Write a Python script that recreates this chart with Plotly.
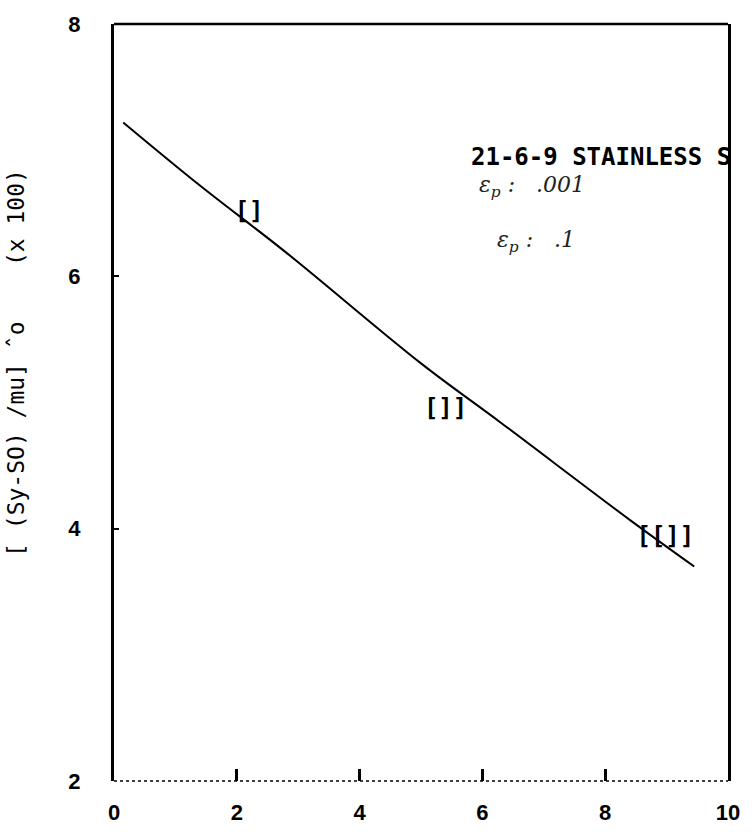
import plotly.graph_objects as go

# Fitted curve
curve_x = [0.15, 1.4, 2.8, 5.0, 6.3, 8.4, 9.45]
curve_y = [7.22, 6.72, 6.19, 5.31, 4.84, 4.07, 3.70]

# Data points (open rectangular symbols)
pts_x = [2.2, 5.4, 8.98]
pts_y = [6.5, 4.94, 3.93]
pts_sym = ["[]", "[]]", "[[]]"]

x_ticks = [0, 2, 4, 6, 8, 10]
y_ticks = [2, 4, 6, 8]

fig = go.Figure()
fig.add_trace(go.Scatter(x=curve_x, y=curve_y, mode="lines",
                         line=dict(color="black", width=2, shape="spline"),
                         showlegend=False, hoverinfo="skip"))
fig.add_trace(go.Scatter(x=pts_x, y=pts_y, mode="text", text=pts_sym,
                         textfont=dict(family="DejaVu Sans Mono", size=24, color="black",
                                       weight="bold"),
                         showlegend=False))

tick_font = dict(family="Liberation Sans", size=22, color="black", weight="bold")

fig.update_layout(
    width=752, height=837,
    margin=dict(l=114, r=22, t=15, b=49),
    paper_bgcolor="white", plot_bgcolor="white",
    xaxis=dict(range=[0, 10], tickvals=x_ticks, ticktext=[str(v) for v in x_ticks],
               showgrid=False, zeroline=False, showline=False,
               ticks="inside", ticklen=12, tickwidth=2.5, tickcolor="black",
               ticklabelstandoff=16, tickfont=tick_font),
    yaxis=dict(range=[2, 8], tickvals=y_ticks, ticktext=[str(v) for v in y_ticks],
               showgrid=False, zeroline=False, showline=True, linecolor="black",
               linewidth=3, mirror=True, ticks="inside", ticklen=5, tickwidth=1.5,
               tickcolor="black", ticklabelstandoff=26, tickfont=tick_font),
    shapes=[
        dict(type="line", xref="paper", yref="paper", x0=0, x1=1, y0=1, y1=1,
             line=dict(color="black", width=2.5)),
        dict(type="line", xref="paper", yref="paper", x0=0, x1=1, y0=0, y1=0,
             line=dict(color="black", width=1.5, dash="dot")),
    ],
    annotations=[
        dict(x=5.78, y=6.82, xref="x", yref="y", text="<b>21-6-9 STAINLESS S</b>",
             showarrow=False, xanchor="left", yanchor="bottom",
             font=dict(family="DejaVu Sans Mono", size=24, color="black")),
        dict(x=5.92, y=6.84, xref="x", yref="y", text="<i>ε<sub>p</sub> :   .001</i>",
             showarrow=False, xanchor="left", yanchor="top",
             font=dict(family="DejaVu Serif", size=22, color="#222")),
        dict(x=6.2, y=6.28, xref="x", yref="y", text="<i>ε<sub>p</sub> :   .1</i>",
             showarrow=False, xanchor="left", yanchor="middle",
             font=dict(family="DejaVu Serif", size=22, color="#222")),
        dict(x=-0.16, y=0.552, xref="paper", yref="paper",
             text="[ (Sy-SO) /mu] ˆo    (x 100)", textangle=-90, showarrow=False,
             xanchor="center", yanchor="middle",
             font=dict(family="DejaVu Sans Mono", size=23, color="black")),
    ],
)

fig.write_html("out.html")
